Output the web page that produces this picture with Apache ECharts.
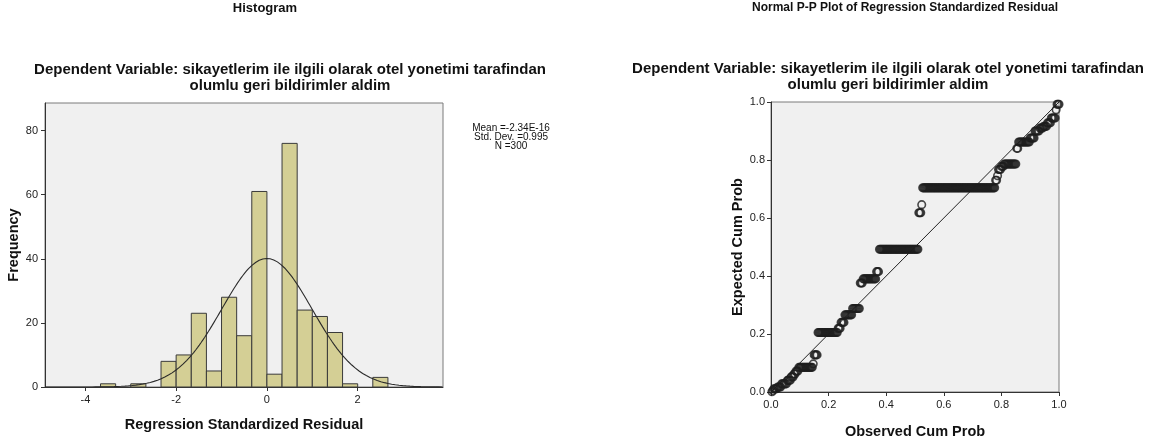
<!DOCTYPE html>
<html><head><meta charset="utf-8">
<script src="https://cdn.jsdelivr.net/npm/echarts@6/dist/echarts.min.js"></script>
<style>html,body{margin:0;padding:0;background:#fff}#c{width:1169px;height:445px}</style>
</head><body><div id="c"></div>
<script>
// ---- text ----
const histTitle = 'Histogram';
const ppTitle = 'Normal P-P Plot of Regression Standardized Residual';
const subtitleLines = ['Dependent Variable: sikayetlerim ile ilgili olarak otel yonetimi tarafindan', 'olumlu geri bildirimler aldim'];
const histXName = 'Regression Standardized Residual';
const histYName = 'Frequency';
const ppXName = 'Observed Cum Prob';
const ppYName = 'Expected Cum Prob';
const statsLines = ['Mean =-2.34E-16', 'Std. Dev. =0.995', 'N =300'];

// ---- histogram data ----
const statMean = -2.34e-16, statSD = 0.995, statN = 300;
const histFirstEdge = -11 / 3, histBinWidth = 1 / 3;
const histCounts = [1, 0, 1, 0, 8, 10, 23, 5, 28, 16, 61, 4, 76, 24, 22, 17, 1, 0, 3];
const histXTicks = [-4, -2, 0, 2];
const histYTicks = [0, 20, 40, 60, 80];

// ---- P-P plot data: expected cum prob of each tied group, and group size ----
const ppExpected = [0.001, 0.005, 0.011, 0.017, 0.028, 0.040, 0.052, 0.062, 0.072, 0.085,
  0.097, 0.128, 0.205, 0.220, 0.240, 0.266, 0.288, 0.376, 0.390, 0.415, 0.492,
  0.618, 0.646, 0.704, 0.730, 0.746, 0.767, 0.778, 0.786, 0.840, 0.862, 0.876, 0.900,
  0.910, 0.916, 0.928, 0.945, 0.973, 0.992];
const ppCounts = [1, 1, 4, 4, 6, 4, 3, 2, 3, 15,
  1, 4, 21, 3, 4, 8, 8, 3, 14, 3, 41,
  3, 1, 76, 2, 1, 3, 3, 13, 2, 12, 5, 5,
  4, 4, 4, 5, 1, 3];
const ppTicks = [0, 0.2, 0.4, 0.6, 0.8, 1.0];

// ---- build series data ----
const histData = histCounts.map((c, i) => [histFirstEdge + i * histBinWidth, histFirstEdge + (i + 1) * histBinWidth, c]);
const histXMin = -4.89, histXMax = 3.88, histYMax = 88.6;
// normal curve implied by the stated Mean / Std. Dev. / N
const curve = [];
for (let x = histXMin; x <= histXMax + 1e-9; x += 0.04) {
  const z = (x - statMean) / statSD;
  curve.push([x, statN * histBinWidth / (statSD * Math.sqrt(2 * Math.PI)) * Math.exp(-0.5 * z * z)]);
}
const ppPoints = [];
let rank = 0;
ppExpected.forEach((y, g) => { for (let k = 0; k < ppCounts[g]; k++) { rank++; ppPoints.push([rank / statN, y]); } });

const FONT = '"Liberation Sans", Arial, sans-serif';
const chart = echarts.init(document.getElementById('c'), null, { renderer: 'canvas' });
const axisLbl = { color: '#222', fontFamily: FONT, fontSize: 11 };
const nameSty = { color: '#111', fontFamily: FONT, fontSize: 14.5, fontWeight: 'bold' };

function textEl(x, y, t, size, bold) {
  return { type: 'text', x: x, y: y, style: { text: t, fill: '#111', font: (bold ? 'bold ' : '') + size + 'px ' + FONT, textAlign: 'center', textVerticalAlign: 'middle' } };
}

chart.setOption({
  animation: false,
  backgroundColor: '#fff',
  grid: [
    { left: 45, top: 103, width: 398, height: 284, show: true, backgroundColor: '#f0f0f0', borderColor: '#7a7a7a', borderWidth: 1 },
    { left: 771, top: 102, width: 288, height: 290, show: true, backgroundColor: '#f0f0f0', borderColor: '#7a7a7a', borderWidth: 1 }
  ],
  xAxis: [
    { gridIndex: 0, type: 'value', min: histXMin, max: histXMax,
      name: histXName, nameLocation: 'middle', nameGap: 30, nameTextStyle: nameSty,
      axisLine: { show: true, onZero: false, lineStyle: { color: '#333' } },
      axisTick: { show: true, length: 4, customValues: histXTicks, lineStyle: { color: '#333' } },
      axisLabel: Object.assign({ customValues: histXTicks, margin: 7 }, axisLbl),
      splitLine: { show: false } },
    { gridIndex: 1, type: 'value', min: 0, max: 1, interval: 0.2,
      name: ppXName, nameLocation: 'middle', nameGap: 32, nameTextStyle: nameSty,
      axisLine: { show: true, onZero: false, lineStyle: { color: '#333' } },
      axisTick: { show: true, length: 4, lineStyle: { color: '#333' } },
      axisLabel: Object.assign({ margin: 7, formatter: v => v.toFixed(1) }, axisLbl),
      splitLine: { show: false } }
  ],
  yAxis: [
    { gridIndex: 0, type: 'value', min: 0, max: histYMax,
      name: histYName, nameLocation: 'middle', nameGap: 22, nameTextStyle: nameSty,
      axisLine: { show: true, onZero: false, lineStyle: { color: '#333' } },
      axisTick: { show: true, length: 4, customValues: histYTicks, lineStyle: { color: '#333' } },
      axisLabel: Object.assign({ customValues: histYTicks, margin: 7 }, axisLbl),
      splitLine: { show: false } },
    { gridIndex: 1, type: 'value', min: 0, max: 1, interval: 0.2,
      name: ppYName, nameLocation: 'middle', nameGap: 26, nameTextStyle: nameSty,
      axisLine: { show: true, onZero: false, lineStyle: { color: '#333' } },
      axisTick: { show: true, length: 4, lineStyle: { color: '#333' } },
      axisLabel: Object.assign({ margin: 6, formatter: v => v.toFixed(1) }, axisLbl),
      splitLine: { show: false } }
  ],
  series: [
    { type: 'custom', xAxisIndex: 0, yAxisIndex: 0, data: histData, encode: { x: [0, 1], y: 2 },
      renderItem: function (params, api) {
        const c = api.value(2);
        if (!c) return null;
        const p0 = api.coord([api.value(0), 0]);
        const p1 = api.coord([api.value(1), c]);
        return { type: 'rect', shape: { x: p0[0], y: p1[1], width: p1[0] - p0[0], height: p0[1] - p1[1] },
          style: { fill: '#d4cf95', stroke: '#3a3a3a', lineWidth: 1 } };
      }, z: 2 },
    { type: 'line', xAxisIndex: 0, yAxisIndex: 0, data: curve, showSymbol: false, symbol: 'none',
      lineStyle: { color: '#2a2a2a', width: 1.1 }, z: 3 },
    { type: 'line', xAxisIndex: 1, yAxisIndex: 1, data: [[0, 0], [1, 1]], showSymbol: false, symbol: 'none',
      lineStyle: { color: '#222', width: 1 }, z: 2 },
    { type: 'scatter', xAxisIndex: 1, yAxisIndex: 1, data: ppPoints, symbol: 'circle', symbolSize: 7.5,
      itemStyle: { color: 'rgba(0,0,0,0)', borderColor: '#1e1e1e', borderWidth: 1.6 }, z: 3 }
  ],
  graphic: [
    textEl(265, 8, histTitle, 13, true),
    textEl(905, 8, ppTitle, 12, true),
    textEl(290, 70, subtitleLines[0], 15, true),
    textEl(290, 86, subtitleLines[1], 15, true),
    textEl(888, 69, subtitleLines[0], 15, true),
    textEl(888, 85, subtitleLines[1], 15, true),
    textEl(511, 128, statsLines[0], 10, false),
    textEl(511, 137, statsLines[1], 10, false),
    textEl(511, 146, statsLines[2], 10, false)
  ]
});
</script></body></html>
